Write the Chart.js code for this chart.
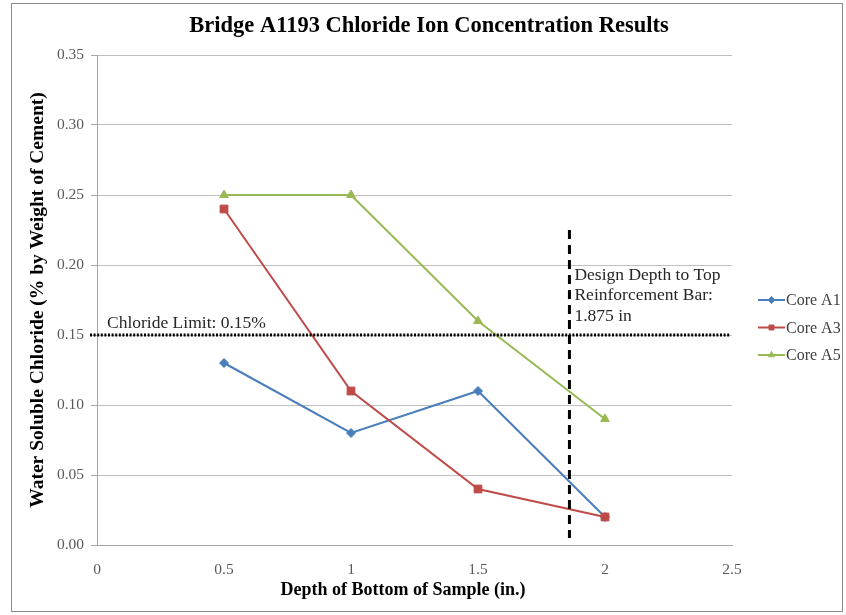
<!DOCTYPE html>
<html>
<head>
<meta charset="utf-8">
<script src="https://cdn.jsdelivr.net/npm/chart.js@4"></script>
<style>
  html, body { margin: 0; padding: 0; background: #fff; }
  #wrap { position: relative; width: 846px; height: 615px; }
  #frame { position: absolute; left: 11px; top: 3px; width: 832px; height: 609px; border: 1px solid #8c8c8c; box-sizing: border-box; pointer-events: none; }
</style>
</head>
<body>
<div id="wrap">
  <canvas id="chart" width="846" height="615"></canvas>
  <div id="frame"></div>
</div>
<script>
// depth of bottom of sample (in.)
const depths = [0.5, 1, 1.5, 2];
const coreA1 = [0.13, 0.08, 0.11, 0.02];
const coreA3 = [0.24, 0.11, 0.04, 0.02];
const coreA5 = [0.25, 0.25, 0.16, 0.09];
const seriesNames = ['Core A1', 'Core A3', 'Core A5'];
const chlorideLimit = 0.15;
const designDepthLine = 1.86; // where the dashed line sits in the picture
const designLineRange = [0.005, 0.225];
const limitLabel = 'Chloride Limit: 0.15%';
const designLabel = ['Design Depth to Top', 'Reinforcement Bar:', '1.875 in'];
const chartTitle = 'Bridge A1193 Chloride Ion Concentration Results';
const xTitle = 'Depth of Bottom of Sample (in.)';

const SERIF = '"Liberation Serif", "Times New Roman", serif';

function toPoints(vals) {
  return depths.map((d, i) => ({ x: d, y: vals[i] }));
}

const annotations = {
  id: 'annotations',
  afterDatasetsDraw(chart) {
    const { ctx, scales: { x, y } } = chart;
    ctx.save();
    // titles (placed off-centre like the original)
    ctx.fillStyle = '#000';
    ctx.font = 'bold 22.5px ' + SERIF;
    ctx.textAlign = 'center';
    ctx.textBaseline = 'middle';
    ctx.fillText(chartTitle, 429, 26);
    ctx.font = 'bold 18px ' + SERIF;
    ctx.fillText(xTitle, 403, 590);

    // chloride limit dotted line
    const yl = y.getPixelForValue(chlorideLimit);
    ctx.strokeStyle = '#000';
    ctx.lineWidth = 3;
    ctx.setLineDash([2, 1.6]);
    ctx.beginPath();
    ctx.moveTo(x.getPixelForValue(0) - 7, yl);
    ctx.lineTo(x.getPixelForValue(2.5) - 2, yl);
    ctx.stroke();
    // design depth dashed line
    const xd = x.getPixelForValue(designDepthLine);
    ctx.setLineDash([9, 6]);
    ctx.beginPath();
    ctx.moveTo(xd, y.getPixelForValue(designLineRange[1]));
    ctx.lineTo(xd, y.getPixelForValue(designLineRange[0]));
    ctx.stroke();
    ctx.setLineDash([]);
    // labels
    ctx.fillStyle = '#262626';
    ctx.font = '17.5px ' + SERIF;
    ctx.textAlign = 'left';
    ctx.fillText(limitLabel, x.getPixelForValue(0) + 10, yl - 12);
    designLabel.forEach((t, i) => ctx.fillText(t, xd + 5, 275 + i * 20.5));

    // legend
    const lx = 758, ly = 300, gap = 27.5;
    chart.data.datasets.forEach((ds, i) => {
      const cy = ly + i * gap;
      ctx.strokeStyle = ds.borderColor;
      ctx.lineWidth = 2;
      ctx.beginPath();
      ctx.moveTo(lx, cy);
      ctx.lineTo(lx + 27, cy);
      ctx.stroke();
      ctx.fillStyle = ds.backgroundColor;
      ctx.lineWidth = 1;
      Chart.helpers.drawPoint(ctx, { pointStyle: ds.pointStyle, radius: 3.5, borderWidth: 1, rotation: 0 }, lx + 13.5, cy);
      ctx.fillStyle = '#404040';
      ctx.font = '16px ' + SERIF;
      ctx.fillText(ds.label, lx + 28, cy + 1);
    });
    ctx.restore();
  }
};

new Chart(document.getElementById('chart'), {
  type: 'line',
  data: {
    datasets: [
      { label: seriesNames[0], data: toPoints(coreA1), borderColor: '#4A7EBB', backgroundColor: '#4A7EBB', pointStyle: 'rectRot', pointRadius: 4.5, order: 3 },
      { label: seriesNames[1], data: toPoints(coreA3), borderColor: '#BE4B48', backgroundColor: '#BE4B48', pointStyle: 'rect', pointRadius: 5.5, order: 2 },
      { label: seriesNames[2], data: toPoints(coreA5), borderColor: '#98B954', backgroundColor: '#98B954', pointStyle: 'triangle', pointRadius: 5, order: 1 }
    ]
  },
  options: {
    responsive: false,
    animation: false,
    elements: { line: { borderWidth: 2, tension: 0 }, point: { borderWidth: 1 } },
    layout: { padding: { left: 0, right: 114, top: 55, bottom: 0 } },
    plugins: {
      legend: { display: false },
      tooltip: { enabled: false },
      title: { display: false }
    },
    scales: {
      x: {
        type: 'linear',
        min: 0, max: 2.5,
        afterFit(s) { s.height = 70; },
        ticks: { stepSize: 0.5, color: '#595959', font: { family: SERIF, size: 15.5 }, padding: 8, maxRotation: 0, callback: v => String(v) },
        grid: { display: false },
        border: { display: true, color: '#a6a6a6', width: 1 },
        title: { display: false }
      },
      y: {
        min: 0, max: 0.35,
        afterFit(s) { s.width = 97; },
        ticks: { stepSize: 0.05, color: '#595959', font: { family: SERIF, size: 15.5 }, padding: 7, callback: v => v.toFixed(2) },
        grid: { color: '#bfbfbf', lineWidth: 1, tickLength: 6, drawTicks: true, tickColor: '#a6a6a6' },
        border: { display: true, color: '#a6a6a6', width: 1 },
        title: { display: true, text: 'Water Soluble Chloride (% by Weight of Cement)', color: '#000', font: { family: SERIF, size: 19.5, weight: 'bold' }, padding: { top: 26 } }
      }
    }
  },
  plugins: [annotations]
});
</script>
</body>
</html>
